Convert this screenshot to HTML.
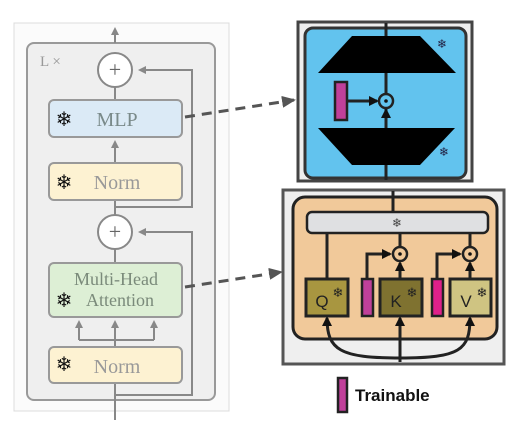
<!DOCTYPE html>
<html><head><style>body{margin:0;background:#fff}svg{display:block}</style></head><body>
<svg width="530" height="442" viewBox="0 0 530 442" xmlns="http://www.w3.org/2000/svg" font-family="Liberation Serif, serif">
<defs>
<marker id="ga" markerWidth="8" markerHeight="8" refX="6" refY="4" orient="auto" markerUnits="userSpaceOnUse"><path d="M0,0 L8,4 L0,8 z" fill="#888"/></marker>
<marker id="da" markerWidth="14" markerHeight="12" refX="12" refY="6" orient="auto" markerUnits="userSpaceOnUse"><path d="M0,0 L14,6 L0,12 z" fill="#555"/></marker>
<marker id="ba" markerWidth="10" markerHeight="10" refX="8" refY="5" orient="auto" markerUnits="userSpaceOnUse"><path d="M0,0 L10,5 L0,10 z" fill="#111"/></marker>
</defs>
<rect x="14" y="23" width="215" height="388" fill="#fbfbfb" stroke="#ddd"/>
<rect x="27" y="43" width="188" height="357" rx="7" fill="#efefef" stroke="#999" stroke-width="2"/>
<text x="40" y="66" font-size="15" fill="#999">L ×</text>
<g stroke="#888" stroke-width="2" fill="none">
<line x1="115" y1="43" x2="115" y2="29" marker-end="url(#ga)"/>
<line x1="115" y1="87" x2="115" y2="100"/>
<line x1="115" y1="163" x2="115" y2="142" marker-end="url(#ga)"/>
<line x1="115" y1="200" x2="115" y2="215"/>
<line x1="115" y1="249" x2="115" y2="263"/>
<line x1="115" y1="347" x2="115" y2="322" marker-end="url(#ga)"/>
<path d="M79,340 L154,340 M79,340 L79,322 M154,340 L154,322" />
<line x1="79" y1="330" x2="79" y2="322" marker-end="url(#ga)"/>
<line x1="154" y1="330" x2="154" y2="322" marker-end="url(#ga)"/>
<line x1="115" y1="383" x2="115" y2="420"/>
<path d="M115,207 L192,207 L192,70 L140,70" marker-end="url(#ga)"/>
<path d="M115,395 L192,395 L192,232 L140,232" marker-end="url(#ga)"/>
</g>
<circle cx="115" cy="70" r="17" fill="#fff" stroke="#888" stroke-width="2"/>
<text x="115" y="77" font-size="22" text-anchor="middle" fill="#666">+</text>
<circle cx="115" cy="232" r="17" fill="#fff" stroke="#888" stroke-width="2"/>
<text x="115" y="239" font-size="22" text-anchor="middle" fill="#666">+</text>
<rect x="49" y="100" width="133" height="37" rx="5" fill="#dbeaf6" stroke="#999" stroke-width="2"/>
<text x="117" y="126" font-size="20" text-anchor="middle" fill="#7a8a8a">MLP</text>
<text x="64" y="126" font-size="20" text-anchor="middle" fill="#111" font-family="DejaVu Sans" font-weight="bold">❄</text>
<rect x="49" y="163" width="133" height="37" rx="5" fill="#fdf2d2" stroke="#999" stroke-width="2"/>
<text x="117" y="189" font-size="20" text-anchor="middle" fill="#999">Norm</text>
<text x="64" y="189" font-size="20" text-anchor="middle" fill="#111" font-family="DejaVu Sans" font-weight="bold">❄</text>
<rect x="49" y="263" width="133" height="54" rx="5" fill="#ddefd5" stroke="#999" stroke-width="2"/>
<text x="116" y="285" font-size="18" text-anchor="middle" fill="#7a8a7a">Multi-Head</text>
<text x="120" y="306" font-size="18" text-anchor="middle" fill="#7a8a7a">Attention</text>
<text x="64" y="307" font-size="20" text-anchor="middle" fill="#111" font-family="DejaVu Sans" font-weight="bold">❄</text>
<rect x="49" y="347" width="133" height="36" rx="5" fill="#fdf2d2" stroke="#999" stroke-width="2"/>
<text x="117" y="373" font-size="20" text-anchor="middle" fill="#999">Norm</text>
<text x="64" y="371" font-size="20" text-anchor="middle" fill="#111" font-family="DejaVu Sans" font-weight="bold">❄</text>
<line x1="185" y1="117" x2="294" y2="100" stroke="#555" stroke-width="3" stroke-dasharray="10,7" marker-end="url(#da)"/>
<line x1="185" y1="287" x2="281" y2="272" stroke="#555" stroke-width="3" stroke-dasharray="10,7" marker-end="url(#da)"/>
<rect x="298" y="22" width="174" height="159" fill="#eee" stroke="#444" stroke-width="3"/>
<rect x="305" y="28" width="161" height="150" rx="8" fill="#62c3ee" stroke="#333" stroke-width="3"/>
<line x1="386" y1="23" x2="386" y2="180" stroke="#222" stroke-width="3"/>
<polygon points="352,36 420,36 456,73 318,73" fill="#000"/>
<polygon points="318,128 455,128 420,165 352,165" fill="#000"/>
<line x1="386" y1="128" x2="386" y2="110" stroke="#222" stroke-width="3" marker-end="url(#ba)"/>
<circle cx="386" cy="101" r="7" fill="#62c3ee" stroke="#222" stroke-width="2.5"/>
<circle cx="386" cy="101" r="1.8" fill="#111"/>
<rect x="335" y="82" width="12" height="38" fill="#c0409a" stroke="#222" stroke-width="2.5"/>
<line x1="347" y1="101" x2="377" y2="101" stroke="#222" stroke-width="3" marker-end="url(#ba)"/>
<text x="442" y="48" font-size="12" text-anchor="middle" fill="#224" font-family="DejaVu Sans">❄</text>
<text x="444" y="156" font-size="12" text-anchor="middle" fill="#224" font-family="DejaVu Sans">❄</text>
<rect x="283" y="190" width="221" height="174" fill="#efefef" stroke="#555" stroke-width="3"/>
<rect x="293" y="197" width="204" height="142" rx="12" fill="#f1c99a" stroke="#222" stroke-width="3"/>
<line x1="393" y1="191" x2="393" y2="212" stroke="#222" stroke-width="3"/>
<rect x="307" y="212" width="181" height="21" rx="5" fill="#dfe0e2" stroke="#222" stroke-width="2.5"/>
<text x="397" y="227" font-size="12" text-anchor="middle" fill="#444" font-family="DejaVu Sans">❄</text>
<g stroke="#222" stroke-width="3" fill="none">
<line x1="327" y1="233" x2="327" y2="279"/>
<line x1="400" y1="233" x2="400" y2="247"/>
<line x1="470" y1="233" x2="470" y2="247"/>
<path d="M367,279 L367,254 L390,254" marker-end="url(#ba)"/>
<path d="M437,279 L437,254 L460,254" marker-end="url(#ba)"/>
<line x1="400" y1="279" x2="400" y2="263" marker-end="url(#ba)"/>
<line x1="470" y1="279" x2="470" y2="263" marker-end="url(#ba)"/>
<line x1="400" y1="362" x2="400" y2="318" marker-end="url(#ba)"/>
<path d="M400,358 C340,358 327,350 327,318" marker-end="url(#ba)"/>
<path d="M400,358 C460,358 470,350 470,318" marker-end="url(#ba)"/>
</g>
<circle cx="400" cy="254" r="7" fill="#f1c99a" stroke="#222" stroke-width="2.5"/><circle cx="400" cy="254" r="1.8" fill="#111"/>
<circle cx="470" cy="254" r="7" fill="#f1c99a" stroke="#222" stroke-width="2.5"/><circle cx="470" cy="254" r="1.8" fill="#111"/>
<rect x="306" y="279" width="42" height="37" fill="#a89640" stroke="#222" stroke-width="3"/>
<rect x="380" y="279" width="42" height="37" fill="#7f7230" stroke="#222" stroke-width="3"/>
<rect x="450" y="279" width="41" height="37" fill="#cfc482" stroke="#222" stroke-width="3"/>
<rect x="362" y="279" width="11" height="37" fill="#c0409a" stroke="#222" stroke-width="2.5"/>
<rect x="432" y="279" width="11" height="37" fill="#e0208a" stroke="#222" stroke-width="2.5"/>
<g font-family="Liberation Sans, sans-serif" font-size="17" fill="#222">
<text x="322" y="307" text-anchor="middle">Q</text>
<text x="396" y="307" text-anchor="middle">K</text>
<text x="466" y="307" text-anchor="middle">V</text>
</g>
<g font-family="DejaVu Sans" font-size="13" fill="#222" text-anchor="middle">
<text x="338" y="297">❄</text><text x="412" y="297">❄</text><text x="482" y="297">❄</text>
</g>
<rect x="338" y="378" width="9" height="34" fill="#c0409a" stroke="#222" stroke-width="2.5"/>
<text x="355" y="401" font-family="Liberation Sans, sans-serif" font-weight="bold" font-size="17" fill="#111">Trainable</text>
</svg>
</body></html>
